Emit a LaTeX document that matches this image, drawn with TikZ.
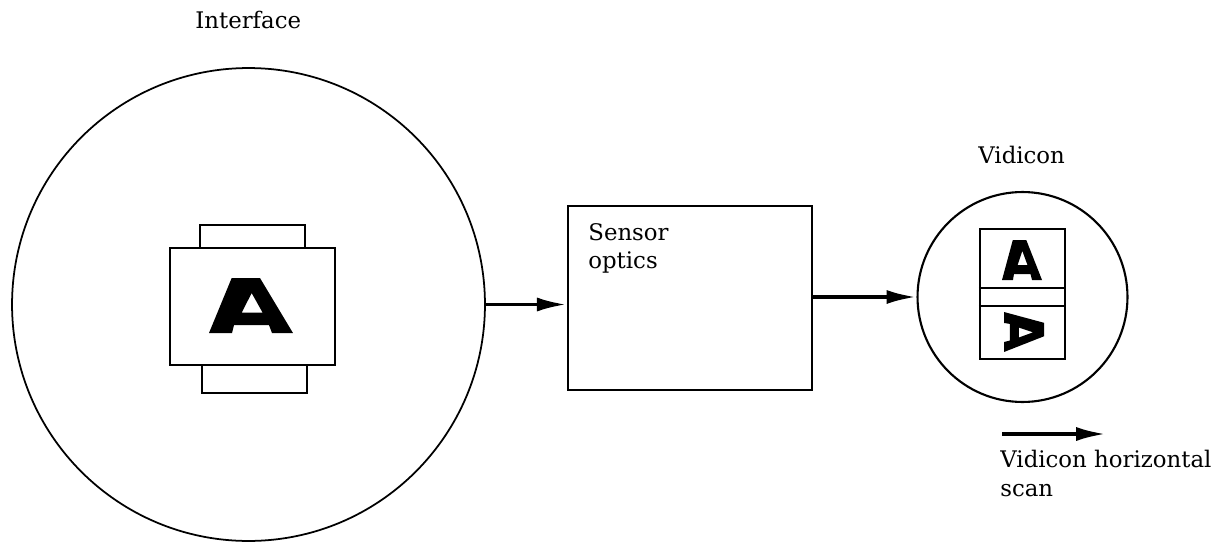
\documentclass[tikz,border=0pt]{standalone}
\usepackage{fontspec}
\setmainfont{DejaVu Serif}
\usetikzlibrary{arrows.meta}
\newcommand\glyphA{%
  \fill[even odd rule] (0,0) -- (0.274,0) -- (0.298,0.145) -- (0.714,0.145) -- (0.75,0) -- (1,0)
     -- (0.607,1) -- (0.27,1) -- cycle
     (0.508,0.727) -- (0.389,0.369) -- (0.639,0.369) -- cycle;}
\tikzset{
  lbl/.style={font=\fontsize{13}{15}\selectfont, inner sep=0pt, anchor=base west},
  thinline/.style={line width=1pt},
  thickbox/.style={draw, line width=1.4pt, rectangle, inner sep=0pt},
  flow/.style={line width=2.2pt, -{Latex[length=17pt,width=8pt]}}
}
\begin{document}
\begin{tikzpicture}[x=0.02cm, y=-0.02cm]
\useasboundingbox (0,0) rectangle (1222,544);
% interface
\node[lbl] (tIface) at (195,29) {Interface};
\node[draw, thinline, circle, minimum size=9.46cm, inner sep=0pt] (iface) at (248.5,304.5) {};
\node[thickbox, minimum width=2.1cm, minimum height=0.46cm] (tabTop) at (252.5,236.5) {};
\node[thickbox, minimum width=2.1cm, minimum height=0.56cm] (tabBot) at (254.5,379) {};
\node[thickbox, fill=white, minimum width=3.3cm, minimum height=2.34cm] (slide) at (252.5,306.5) {};
\begin{scope}[shift={(209,333)}, x={(1.68cm,0cm)}, y={(0cm,1.1cm)}]
  \glyphA
\end{scope}
% sensor optics
\node[thickbox, minimum width=4.88cm, minimum height=3.68cm] (sensor) at (690,298) {};
\node[lbl] (tSensor) at (588,240) {Sensor};
\node[lbl] (tOptics) at (588,268) {optics};
% vidicon
\node[lbl] (tVid) at (978,163) {Vidicon};
\node[draw, line width=1.2pt, circle, minimum size=4.2cm, inner sep=0pt] (vid) at (1022.5,297) {};
\node[thickbox, minimum width=1.7cm, minimum height=2.6cm] (screen) at (1022.5,294) {};
\draw[line width=1.4pt] (screen.west |- 0,288) coordinate (d1) -- (screen.east |- 0,288) coordinate (d2);
\draw[line width=1.4pt] (screen.west |- 0,306) coordinate (d3) -- (screen.east |- 0,306) coordinate (d4);
\begin{scope}[shift={(1002,280)}, x={(0.8cm,0cm)}, y={(0cm,0.8cm)}]
  \glyphA
\end{scope}
\begin{scope}[shift={(1004,312)}, x={(0cm,-0.8cm)}, y={(0.8cm,0cm)}]
  \glyphA
\end{scope}
% arrows
\draw[flow] (iface.east) -- (sensor.west |- iface.east);
\draw[flow] (sensor.east |- vid.west) -- (vid.west);
% scan
\coordinate (scanA) at (1002,434);
\coordinate (scanB) at (1106,434);
\draw[flow] (scanA) -- (scanB);
\node[lbl] (tScan1) at (1000,467) {Vidicon horizontal};
\node[lbl] (tScan2) at (1000,496) {scan};
\end{tikzpicture}
\end{document}
